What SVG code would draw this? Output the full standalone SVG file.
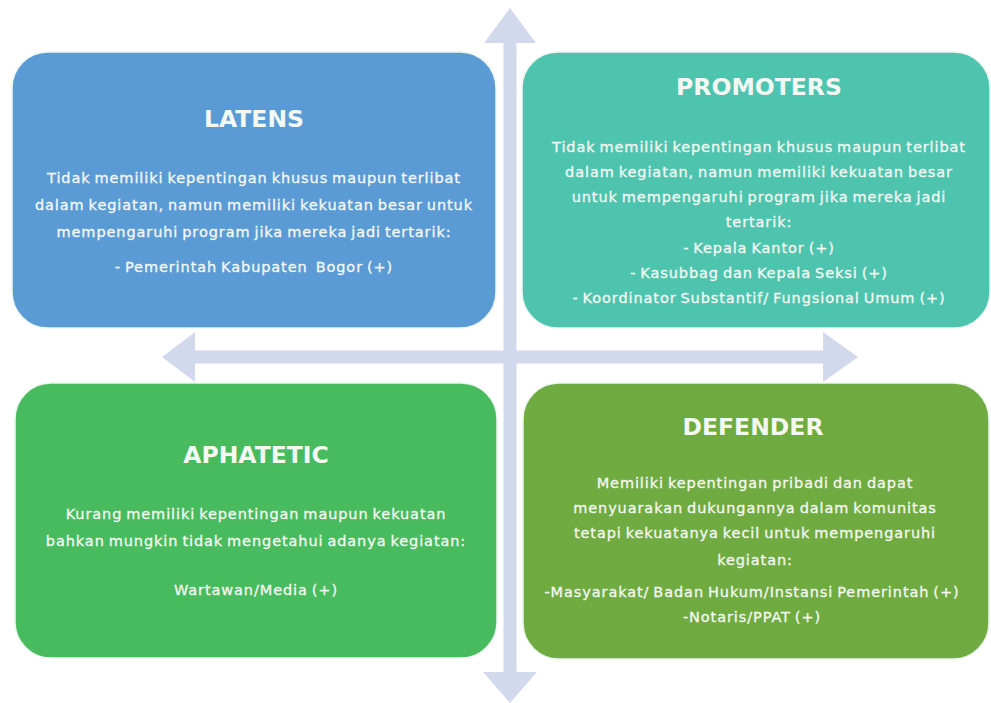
<svg xmlns="http://www.w3.org/2000/svg" width="991" height="703" viewBox="0 0 991 703">
<style>
.axis{fill:#D3D9EC}
.box{stroke:#EAF6EE;stroke-width:1.5}
.title{font-family:"DejaVu Sans","Liberation Sans",sans-serif;font-weight:bold;font-size:23.5px;fill:#F4F8F2;text-anchor:middle}
.body{font-family:"DejaVu Sans","Liberation Sans",sans-serif;font-size:14.5px;fill:#F4F8F2;stroke:#F4F8F2;stroke-width:0.3;text-anchor:middle;letter-spacing:0.9px;word-spacing:-1.5px}
</style>
<rect width="991" height="703" fill="#FFFFFF"/>
<g id="connectors">
<polygon class="axis" points="510,8 536,43 516.5,43 516.5,672 537,672 510,703 483,672 503.5,672 503.5,43 484,43"/>
<polygon class="axis" points="162,357 195,332 195,350.5 823,350.5 823,332 858,357 823,382 823,363.5 195,363.5 195,382"/>
</g>
<g id="latens">
<rect class="box" x="12" y="52" width="484" height="276" rx="36" fill="#5B9BD5"/>
<text class="title" x="254" y="127">LATENS</text>
<text class="body" x="254" y="183">Tidak memiliki kepentingan khusus maupun terlibat</text>
<text class="body" x="254" y="210">dalam kegiatan, namun memiliki kekuatan besar untuk</text>
<text class="body" x="254" y="237">mempengaruhi program jika mereka jadi tertarik:</text>
<text class="body" x="254" y="272">- Pemerintah Kabupaten&#160; Bogor (+)</text>
</g>
<g id="promoters">
<rect class="box" x="522" y="52" width="468" height="276" rx="36" fill="#4EC4AF"/>
<text class="title" x="759" y="95">PROMOTERS</text>
<text class="body" x="759" y="152">Tidak memiliki kepentingan khusus maupun terlibat</text>
<text class="body" x="759" y="177">dalam kegiatan, namun memiliki kekuatan besar</text>
<text class="body" x="759" y="202">untuk mempengaruhi program jika mereka jadi</text>
<text class="body" x="759" y="227">tertarik:</text>
<text class="body" x="759" y="253">- Kepala Kantor (+)</text>
<text class="body" x="759" y="278">- Kasubbag dan Kepala Seksi (+)</text>
<text class="body" x="759" y="303">- Koordinator Substantif/ Fungsional Umum (+)</text>
</g>
<g id="aphatetic">
<rect class="box" x="15" y="383" width="482" height="275" rx="36" fill="#48BB5E"/>
<text class="title" x="256" y="463">APHATETIC</text>
<text class="body" x="256" y="519">Kurang memiliki kepentingan maupun kekuatan</text>
<text class="body" x="256" y="546">bahkan mungkin tidak mengetahui adanya kegiatan:</text>
<text class="body" x="256" y="595">Wartawan/Media (+)</text>
</g>
<g id="defender">
<rect class="box" x="523" y="383" width="466" height="276" rx="36" fill="#6FAB40"/>
<text class="title" x="753" y="435">DEFENDER</text>
<text class="body" x="755" y="488">Memiliki kepentingan pribadi dan dapat</text>
<text class="body" x="755" y="513">menyuarakan dukungannya dalam komunitas</text>
<text class="body" x="755" y="538">tetapi kekuatanya kecil untuk mempengaruhi</text>
<text class="body" x="755" y="565">kegiatan:</text>
<text class="body" x="752" y="597">-Masyarakat/ Badan Hukum/Instansi Pemerintah (+)</text>
<text class="body" x="752" y="622">-Notaris/PPAT (+)</text>
</g>
</svg>
